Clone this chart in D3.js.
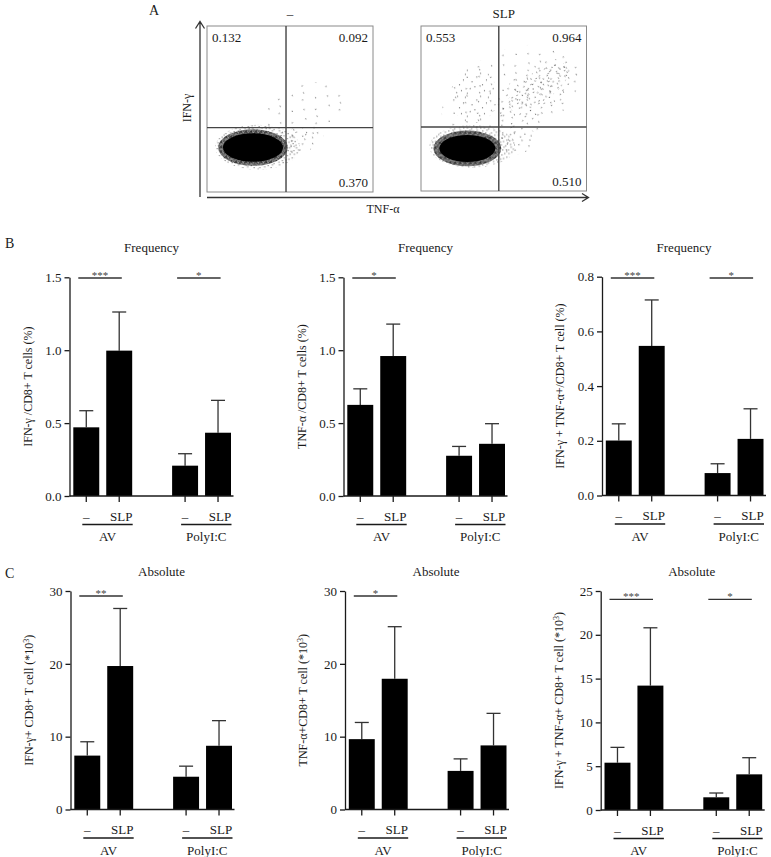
<!DOCTYPE html>
<html><head><meta charset="utf-8">
<script src="https://cdn.jsdelivr.net/npm/d3@7"></script>
<style>body{margin:0;background:#fff} svg text{font-family:"Liberation Serif","DejaVu Serif",serif !important}</style>
</head><body>
<svg id="c" width="771" height="857" xmlns="http://www.w3.org/2000/svg"></svg>
<script>
// ---------------- DATA ----------------
const groups = ["AV", "PolyI:C"];
const treatments = ["–", "SLP"];

// Panel A: quadrant percentages (UL, UR, LR)
const flowTitles = ["–", "SLP"];
const flowQuadUL = ["0.132", "0.553"];
const flowQuadUR = ["0.092", "0.964"];
const flowQuadLR = ["0.370", "0.510"];
const flowGateX = [47.6, 47.0];
const flowGateY = [38.8, 38.8];
// density regions of each dot plot: [cx, cy, rx, ry, rotation, density]
const flowRegionsNeg = [
  [56, 46, 28, 17, 30, "vsparse"],
  [55, 31, 16, 8, 20, "sparse"],
  [30.5, 27, 25.5, 13.5, 0, "medium"],
  [27.7, 26.8, 21, 11, 0, "dense"],
  [27.7, 26.8, 18.1, 8.6, 0, "solid"]
];
const flowRegionsSlp = [
  [54, 58, 44, 27, 25, "vsparse"],
  [69, 60, 29, 14, 35, "sparse"],
  [71, 63, 22, 9, 35, "light"],
  [32, 58, 14, 17, 0, "sparse"],
  [57, 30.6, 13, 8.5, 10, "sparse"],
  [31, 27, 26, 13, 0, "medium"],
  [28, 25.8, 20.5, 10.8, 0, "dense"],
  [28, 25.8, 16.9, 8.2, 0, "solid"]
];

// Panel B: frequency (%), order: AV –, AV SLP, PolyI:C –, PolyI:C SLP
const freqIfnMean   = [0.471, 0.997, 0.208, 0.434];
const freqIfnErr    = [0.585, 1.262, 0.290, 0.656];
const freqTnfMean   = [0.625, 0.960, 0.276, 0.358];
const freqTnfErr    = [0.735, 1.179, 0.340, 0.496];
const freqDoubleMean= [0.201, 0.547, 0.082, 0.207];
const freqDoubleErr = [0.262, 0.715, 0.116, 0.317];

// Panel C: absolute (*10^3)
const absIfnMean    = [7.4, 19.7, 4.5, 8.75];
const absIfnErr     = [9.3, 27.6, 5.95, 12.2];
const absTnfMean    = [9.66, 17.95, 5.3, 8.8];
const absTnfErr     = [11.95, 25.1, 6.95, 13.2];
const absDoubleMean = [5.4, 14.2, 1.45, 4.07];
const absDoubleErr  = [7.15, 20.8, 1.94, 5.97];

// tick values
const ticksFreq15 = [0, 0.5, 1.0, 1.5];
const ticksFreq08 = [0, 0.2, 0.4, 0.6, 0.8];
const ticksAbs30  = [0, 10, 20, 30];
const ticksAbs25  = [0, 5, 10, 15, 20, 25];

// significance: [group index, label]
const sigIfnFreq    = [[0, "***"], [1, "*"]];
const sigTnfFreq    = [[0, "*"]];
const sigDoubleFreq = [[0, "***"], [1, "*"]];
const sigIfnAbs     = [[0, "**"]];
const sigTnfAbs     = [[0, "*"]];
const sigDoubleAbs  = [[0, "***"], [1, "*"]];

// ---------------- DRAW ----------------
const FONT = "Liberation Serif, DejaVu Serif, serif";
const INK = "#1a1a1a";
const svg = d3.select("#c");
svg.append("rect").attr("width", 771).attr("height", 857).attr("fill", "#fff");
const defs = svg.append("defs");

// stipple tile (style): irregular dot layout in a 24-unit tile
const stipple = [[3,5],[15,2],[9,13],[20,17],[6,21],[13,8],[22,10],[1,15],[17,22],[11,19],
  [7,1],[19,5],[4,10],[14,15],[23,23],[10,4],[2,19],[18,12],[8,8],[21,1],[12,22],[16,18],[5,16],[0.5,7]];
const patterns = {
  dense:   {size: 5,  n: 24, r: 0.5},
  medium:  {size: 17, n: 24, r: 0.5},
  light:   {size: 19, n: 12, r: 0.5},
  sparse:  {size: 23, n: 11, r: 0.5},
  vsparse: {size: 27, n: 6,  r: 0.5}
};
Object.entries(patterns).forEach(([k, p]) => {
  const pat = defs.append("pattern").attr("id", "p-" + k)
    .attr("patternUnits", "userSpaceOnUse").attr("width", p.size).attr("height", p.size);
  pat.selectAll("circle").data(stipple.slice(0, p.n)).join("circle")
    .attr("cx", d => d[0] * p.size / 24).attr("cy", d => d[1] * p.size / 24)
    .attr("r", p.r).attr("fill", k === "dense" ? "#000" : "#222");
});

// Panel letters
svg.append("text").attr("x", 149).attr("y", 15).attr("font-size", 14).attr("fill", INK).text("A");
svg.append("text").attr("x", 5).attr("y", 248).attr("font-size", 14).attr("fill", INK).text("B");
svg.append("text").attr("x", 5).attr("y", 578).attr("font-size", 14).attr("fill", INK).text("C");

// ---- Panel A ----
const flowBoxes = [{x0: 207, x1: 373, y0: 26, y1: 192}, {x0: 421, x1: 586.5, y0: 26, y1: 191}];
const flowRegions = [flowRegionsNeg, flowRegionsSlp];
flowBoxes.forEach((b, i) => {
  const fx = d3.scaleLinear().domain([0, 100]).range([b.x0, b.x1]);
  const fy = d3.scaleLinear().domain([0, 100]).range([b.y1, b.y0]);
  const kx = (b.x1 - b.x0) / 100, ky = (b.y1 - b.y0) / 100;
  defs.append("clipPath").attr("id", "clipf" + i).append("rect")
    .attr("x", b.x0).attr("y", b.y0).attr("width", b.x1 - b.x0).attr("height", b.y1 - b.y0);
  const g = svg.append("g").attr("clip-path", `url(#clipf${i})`);
  g.selectAll("ellipse").data(flowRegions[i]).join("ellipse")
    .attr("cx", 0).attr("cy", 0)
    .attr("rx", d => d[2] * kx).attr("ry", d => d[3] * ky)
    .attr("transform", d => `translate(${fx(d[0])},${fy(d[1])}) rotate(${-d[4]})`)
    .attr("fill", d => d[5] === "solid" ? "#000" : `url(#p-${d[5]})`);
  svg.append("rect").attr("x", b.x0).attr("y", b.y0).attr("width", b.x1 - b.x0).attr("height", b.y1 - b.y0)
    .attr("fill", "none").attr("stroke", "#8a8a8a").attr("stroke-width", 1);
  svg.append("line").attr("x1", fx(flowGateX[i])).attr("x2", fx(flowGateX[i]))
    .attr("y1", b.y0).attr("y2", b.y1).attr("stroke", "#444").attr("stroke-width", 1.4);
  svg.append("line").attr("x1", b.x0).attr("x2", b.x1)
    .attr("y1", fy(flowGateY[i])).attr("y2", fy(flowGateY[i])).attr("stroke", "#444").attr("stroke-width", 1.4);
  const t = svg.append("g").attr("font-size", 13).attr("fill", INK);
  t.append("text").attr("x", b.x0 + 5).attr("y", b.y0 + 16).text(flowQuadUL[i]);
  t.append("text").attr("x", b.x1 - 5).attr("y", b.y0 + 16).attr("text-anchor", "end").text(flowQuadUR[i]);
  t.append("text").attr("x", b.x1 - 5).attr("y", b.y1 - 5).attr("text-anchor", "end").text(flowQuadLR[i]);
  svg.append("text").attr("x", (b.x0 + b.x1) / 2).attr("y", 18)
    .attr("text-anchor", "middle").attr("font-size", 13).attr("fill", INK).text(flowTitles[i]);
});
// axes arrows
svg.append("path").attr("d", "M200,197 L200,22 M195.5,28.5 L200,21.5 L204.5,28.5")
  .attr("fill", "none").attr("stroke", "#333").attr("stroke-width", 1.3);
svg.append("path").attr("d", "M207,197.5 L588,197.5 M582,193.5 L588.5,197.5 L582,201.5")
  .attr("fill", "none").attr("stroke", "#333").attr("stroke-width", 1.3);
svg.append("text").attr("transform", "translate(191,108) rotate(-90)").attr("text-anchor", "middle")
  .attr("font-size", 12).attr("fill", INK).text("IFN-γ");
svg.append("text").attr("x", 383).attr("y", 213).attr("text-anchor", "middle")
  .attr("font-size", 12).attr("fill", INK).text("TNF-α");

// ---- bar charts ----
function barChart(cfg) {
  const {axisX, top, zero, max, ticks, fmt, means, errs, sig, title, ylabel, titleDx} = cfg;
  const y = d3.scaleLinear().domain([0, max]).range([zero, top]);
  const xo = d3.scaleBand().domain(groups).range([axisX + 3.8, axisX + 161.5]).paddingInner(0.404);
  const xi = d3.scaleBand().domain(treatments).range([0, xo.bandwidth()]).paddingInner(0.212);
  const g = svg.append("g");
  const rows = [];
  groups.forEach((gr, gi) => treatments.forEach((tr, ti) =>
    rows.push({gr, tr, m: means[gi * 2 + ti], e: errs[gi * 2 + ti]})));
  const bx = d => xo(d.gr) + xi(d.tr);
  const bw = xi.bandwidth();
  // error bars (upper only)
  g.selectAll("line.err").data(rows).join("line").attr("class", "err")
    .attr("x1", d => bx(d) + bw / 2).attr("x2", d => bx(d) + bw / 2)
    .attr("y1", d => y(d.m)).attr("y2", d => y(d.e))
    .attr("stroke", "#333").attr("stroke-width", 1.3);
  g.selectAll("line.cap").data(rows).join("line").attr("class", "cap")
    .attr("x1", d => bx(d) + bw / 2 - 7).attr("x2", d => bx(d) + bw / 2 + 7)
    .attr("y1", d => y(d.e)).attr("y2", d => y(d.e))
    .attr("stroke", "#333").attr("stroke-width", 1.3);
  g.selectAll("rect.bar").data(rows).join("rect").attr("class", "bar")
    .attr("x", d => bx(d)).attr("width", bw)
    .attr("y", d => y(d.m)).attr("height", d => y(0) - y(d.m))
    .attr("fill", "#000");
  // y axis
  const ya = g.append("g").attr("transform", `translate(${axisX},0)`)
    .call(d3.axisLeft(y).tickValues(ticks).tickFormat(d3.format(fmt)).tickSize(5).tickSizeOuter(0).tickPadding(3));
  ya.attr("font-family", FONT);
  ya.select(".domain").attr("stroke", INK).attr("stroke-width", 1.3);
  ya.selectAll(".tick line").attr("stroke", INK).attr("stroke-width", 1.3);
  ya.selectAll(".tick text").attr("font-size", 13).attr("fill", INK);
  // x axis baseline
  g.append("line").attr("x1", axisX).attr("x2", axisX + 164).attr("y1", zero).attr("y2", zero)
    .attr("stroke", INK).attr("stroke-width", 1.3);
  g.selectAll("line.xt").data(rows).join("line").attr("class", "xt")
    .attr("x1", d => bx(d) + bw / 2).attr("x2", d => bx(d) + bw / 2)
    .attr("y1", zero).attr("y2", zero + 6).attr("stroke", INK).attr("stroke-width", 1.3);
  g.selectAll("text.tr").data(rows).join("text").attr("class", "tr")
    .attr("x", d => bx(d) + bw / 2 + (d.tr === "SLP" ? 2 : 0)).attr("y", zero + 24.5)
    .attr("text-anchor", "middle").attr("font-size", 13).attr("fill", INK).text(d => d.tr);
  groups.forEach(gr => {
    const gx0 = xo(gr) + 9, gx1 = xo(gr) + xo.bandwidth() + 0.5;
    g.append("line").attr("x1", gx0).attr("x2", gx1).attr("y1", zero + 28.5).attr("y2", zero + 28.5)
      .attr("stroke", INK).attr("stroke-width", 1.3);
    g.append("text").attr("x", (gx0 + gx1) / 2).attr("y", zero + 45).attr("text-anchor", "middle")
      .attr("font-size", 13).attr("fill", INK).text(gr);
  });
  // significance
  sig.forEach(([gi, lab]) => {
    const sx0 = xo(groups[gi]) + 5, sx1 = sx0 + 43.5;
    const sy = cfg.sigY;
    g.append("line").attr("x1", sx0).attr("x2", sx1).attr("y1", sy).attr("y2", sy)
      .attr("stroke", "#333").attr("stroke-width", 1.3);
    g.append("text").attr("x", (sx0 + sx1) / 2).attr("y", sy + 1).attr("text-anchor", "middle")
      .attr("font-size", 11).attr("fill", "#444").text(lab);
  });
  // title & y label
  g.append("text").attr("x", axisX + titleDx).attr("y", cfg.titleY).attr("text-anchor", "middle")
    .attr("font-size", 13).attr("fill", INK).text(title);
  g.append("text").attr("transform", `translate(${axisX - 38},${(top + zero) / 2}) rotate(-90)`)
    .attr("text-anchor", "middle").attr("font-size", 12).attr("fill", INK).html(ylabel);
}

const rowB = {top: 277.3, zero: 496, sigY: 278, titleY: 252, titleDx: 82};
const rowC = {top: 591, zero: 809.5, sigY: 596, titleY: 576, titleDx: 91};
barChart({...rowB, axisX: 69.5, max: 1.5, ticks: ticksFreq15, fmt: ".1f",
  means: freqIfnMean, errs: freqIfnErr, sig: sigIfnFreq, title: "Frequency",
  ylabel: "IFN-γ /CD8+ T cells (%)"});
barChart({...rowB, axisX: 343.5, max: 1.5, ticks: ticksFreq15, fmt: ".1f",
  means: freqTnfMean, errs: freqTnfErr, sig: sigTnfFreq, title: "Frequency",
  ylabel: "TNF-α /CD8+ T cells (%)"});
barChart({...rowB, axisX: 602, top: 276.7, zero: 495.5, max: 0.8, ticks: ticksFreq08, fmt: ".1f",
  means: freqDoubleMean, errs: freqDoubleErr, sig: sigDoubleFreq, title: "Frequency",
  ylabel: "IFN-γ + TNF-α+/CD8+ T cell (%)"});
barChart({...rowC, axisX: 70.5, max: 30, ticks: ticksAbs30, fmt: "d",
  means: absIfnMean, errs: absIfnErr, sig: sigIfnAbs, title: "Absolute",
  ylabel: "IFN-γ+ CD8+ T cell (*10<tspan dy='-4' font-size='8'>3</tspan><tspan dy='4'>)</tspan>"});
barChart({...rowC, axisX: 345, max: 30, ticks: ticksAbs30, fmt: "d",
  means: absTnfMean, errs: absTnfErr, sig: sigTnfAbs, title: "Absolute",
  ylabel: "TNF-α+CD8+ T cell (*10<tspan dy='-4' font-size='8'>3</tspan><tspan dy='4'>)</tspan>"});
barChart({...rowC, axisX: 600.7, zero: 810, sigY: 599.3, max: 25, ticks: ticksAbs25, fmt: "d",
  means: absDoubleMean, errs: absDoubleErr, sig: sigDoubleAbs, title: "Absolute",
  ylabel: "IFN-γ + TNF-α+ CD8+ T cell (*10<tspan dy='-4' font-size='8'>3</tspan><tspan dy='4'>)</tspan>"});

svg.selectAll("text").attr("font-family", FONT);
</script>
</body></html>
